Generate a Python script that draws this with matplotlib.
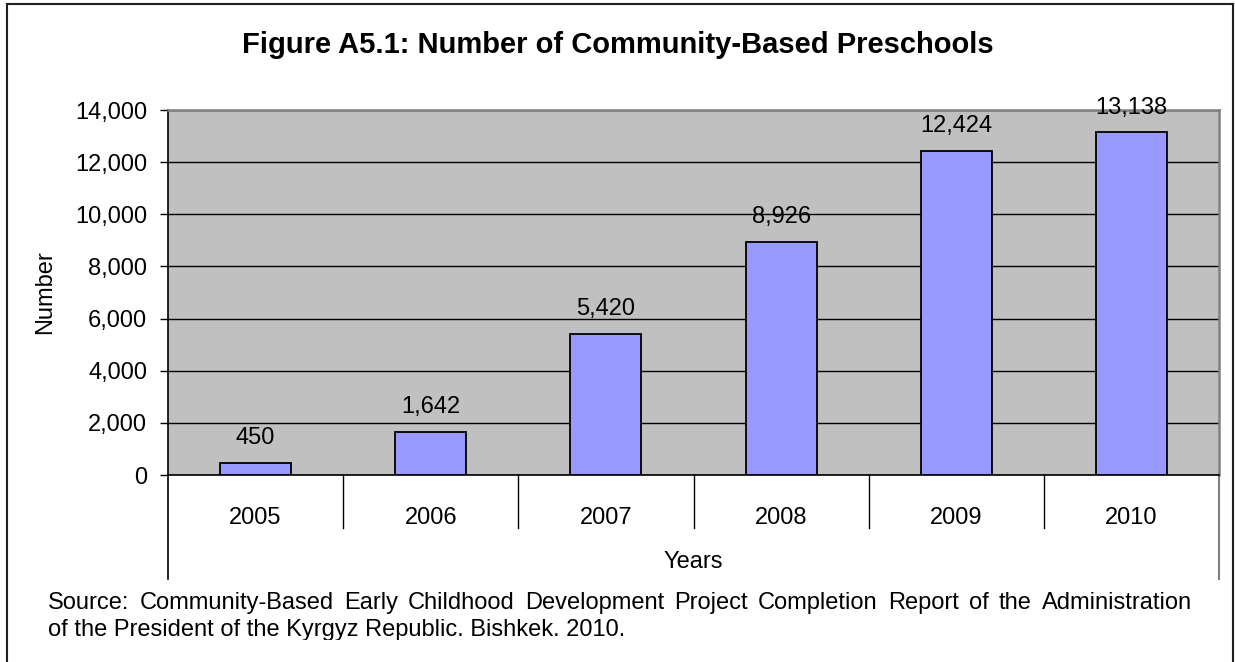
import matplotlib
matplotlib.use("Agg")
import matplotlib.pyplot as plt
from matplotlib.lines import Line2D
from matplotlib.transforms import Bbox

plt.rcParams['font.family'] = ['Liberation Sans', 'DejaVu Sans']

years = ["2005", "2006", "2007", "2008", "2009", "2010"]
preschools = [450, 1642, 5420, 8926, 12424, 13138]
y_ticks = [0, 2000, 4000, 6000, 8000, 10000, 12000, 14000]

title = "Figure A5.1: Number of Community-Based Preschools"
source_line1 = ("Source: Community-Based Early Childhood Development Project "
                "Completion Report of the Administration")
source_line2 = "of the President of the Kyrgyz Republic. Bishkek. 2010."

W, H = 1235, 662
fig = plt.figure(figsize=(W / 100, H / 100), dpi=100)
fig.patch.set_facecolor("white")

# plot area in pixel terms
left, right, top, bottom = 168, 1219, 110, 475
ax = fig.add_axes([left / W, 1 - bottom / H, (right - left) / W, (bottom - top) / H])
ax.set_facecolor("#C0C0C0")

x = list(range(len(years)))
bars = ax.bar(x, preschools, width=0.405, color="#9999FF",
              edgecolor="black", linewidth=1.3, zorder=3)

for xi, v in zip(x, preschools):
    ax.annotate(f"{v:,}", (xi, v), xytext=(0, 10), textcoords="offset points",
                ha="center", va="bottom", fontsize=17, zorder=4,
                annotation_clip=False)

ax.set_xlim(-0.5, len(years) - 0.5)
ax.set_ylim(0, 14000)
ax.set_yticks(y_ticks)
ax.set_yticklabels([f"{t:,}" for t in y_ticks])
ax.set_xticks(x)
ax.set_xticklabels(years)
ax.tick_params(axis="y", length=6, width=1, direction="out", pad=9,
               labelsize=17, colors="black")
ax.tick_params(axis="x", length=0, pad=23, labelsize=17)

ax.grid(axis="y", color="black", linewidth=1, zorder=1)
ax.set_axisbelow(True)

for side in ("top", "right"):
    ax.spines[side].set_color("#808080")
    ax.spines[side].set_linewidth(1.8)
ax.spines["left"].set_color("black")
ax.spines["bottom"].set_color("black")
ax.spines["left"].set_linewidth(1.2)
ax.spines["bottom"].set_linewidth(1.2)

# category separators below the axis
xtr = ax.get_xaxis_transform()
sep_depth = -53 / (bottom - top)
outer_depth = -104 / (bottom - top)
for i in range(1, len(years)):
    ax.add_line(Line2D([i - 0.5, i - 0.5], [0, sep_depth], transform=xtr,
                       color="black", linewidth=1, clip_on=False))
ax.add_line(Line2D([-0.5, -0.5], [0, outer_depth], transform=xtr,
                   color="black", linewidth=1.2, clip_on=False))
ax.add_line(Line2D([len(years) - 0.5, len(years) - 0.5], [0, outer_depth],
                   transform=xtr, color="#808080", linewidth=1.5, clip_on=False))

ax.set_ylabel("Number", fontsize=17)
ax.yaxis.set_label_coords((45 - left) / (right - left), 0.5)
ax.yaxis.label.set_va("center")

fig.text(693.5 / W, 1 - 562 / H, "Years", ha="center", va="center", fontsize=17)
fig.text(0.5, 1 - 45 / H, title, ha="center", va="center",
         fontsize=21, fontweight="bold")

# outer frame
frame_kw = dict(color="#202020", linewidth=1.5, transform=fig.transFigure)
fig.add_artist(Line2D([7 / W, 7 / W], [0, 1 - 4 / H], **frame_kw))
fig.add_artist(Line2D([1233 / W, 1233 / W], [0, 1 - 4 / H], **frame_kw))
fig.add_artist(Line2D([7 / W, 1233 / W], [1 - 4 / H, 1 - 4 / H], **frame_kw))

# justified source note
fig.canvas.draw()
renderer = fig.canvas.get_renderer()
x0, x1 = 48, 1192
words = source_line1.split()
texts = [fig.text(0, 1 - 603 / H, w, ha="left", va="center", fontsize=17)
         for w in words]
widths = [t.get_window_extent(renderer).width for t in texts]
gap = (x1 - x0 - sum(widths)) / (len(words) - 1)
pos = x0
for t, w in zip(texts, widths):
    t.set_x(pos / W)
    pos += w + gap
note2 = fig.text(x0 / W, 1 - 630 / H, source_line2, ha="left", va="center",
                 fontsize=17)
# the note's text box cuts off the lowest descenders
note2.set_clip_box(Bbox([[0, H - 640], [W, H]]))
note2.set_clip_on(True)

fig.savefig("out.png", dpi=100, facecolor="white")
